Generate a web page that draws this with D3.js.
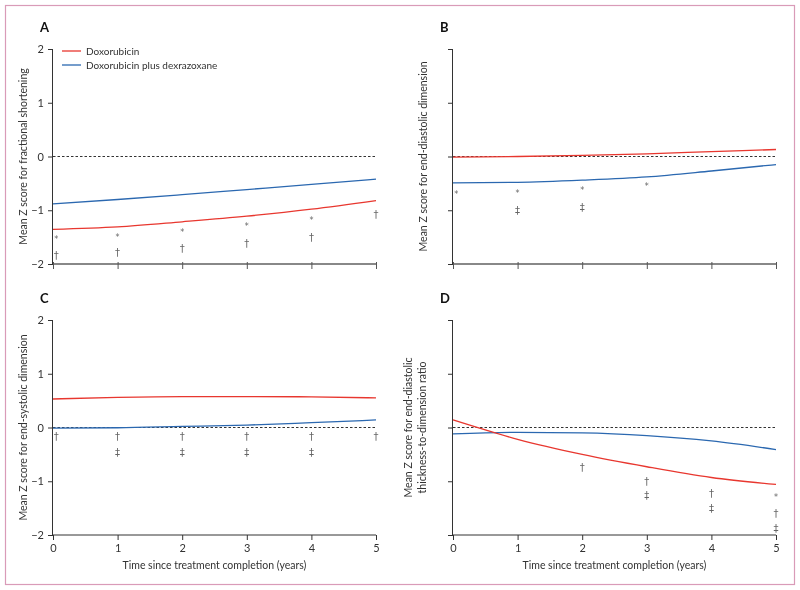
<!DOCTYPE html>
<html>
<head>
<meta charset="utf-8">
<script src="https://cdn.jsdelivr.net/npm/d3@7"></script>
<style>
  html, body { margin: 0; padding: 0; background: #fff; }
  svg { display: block; font-family: Lato, "Open Sans", sans-serif; will-change: transform; }
</style>
</head>
<body>
<svg id="chart" width="800" height="590"></svg>
<script>
// ---- Data ----
const years = [0, 1, 2, 3, 4, 5];
const yTicks = [2, 1, 0, -1, -2];
const xTickLabels = ["0", "1", "2", "3", "4", "5"];
const seriesNames = ["Doxorubicin", "Doxorubicin plus dexrazoxane"];

const panelLabels = ["A", "B", "C", "D"];
const yTitles = [
  ["Mean Z score for fractional shortening"],
  ["Mean Z score for end-diastolic dimension"],
  ["Mean Z score for end-systolic dimension"],
  ["Mean Z score for end-diastolic", "thickness-to-dimension ratio"]
];
const xTitle = "Time since treatment completion (years)";

const doxA = [-1.355, -1.31, -1.215, -1.11, -0.98, -0.82];
const dexA = [-0.88, -0.80, -0.71, -0.615, -0.52, -0.42];
const doxB = [-0.01, 0.0, 0.02, 0.05, 0.09, 0.13];
const dexB = [-0.49, -0.48, -0.44, -0.38, -0.27, -0.15];
const doxC = [0.53, 0.56, 0.575, 0.575, 0.57, 0.55];
const dexC = [-0.01, -0.005, 0.02, 0.045, 0.09, 0.14];
const doxD = [0.14, -0.22, -0.50, -0.73, -0.93, -1.06];
const dexD = [-0.12, -0.09, -0.10, -0.15, -0.25, -0.41];

// significance markers: [year, z, symbol]
const marksA = [[0.05, -1.55, "*"], [0.05, -1.85, "†"], [1, -1.50, "*"], [1, -1.79, "†"],
                [2, -1.42, "*"], [2, -1.72, "†"], [3, -1.31, "*"], [3, -1.61, "†"],
                [4, -1.19, "*"], [4, -1.50, "†"], [5, -1.07, "†"]];
const marksB = [[0.05, -0.71, "*"], [1, -0.69, "*"], [1, -1.0, "‡"], [2, -0.64, "*"],
                [2, -0.95, "‡"], [3, -0.56, "*"]];
const marksC = [[0.05, -0.17, "†"], [1, -0.17, "†"], [2, -0.17, "†"], [3, -0.17, "†"],
                [4, -0.17, "†"], [5, -0.17, "†"],
                [1, -0.47, "‡"], [2, -0.47, "‡"], [3, -0.47, "‡"], [4, -0.47, "‡"]];
const marksD = [[2, -0.75, "†"], [3, -1.0, "†"], [3, -1.27, "‡"], [4, -1.23, "†"],
                [4, -1.51, "‡"], [5, -1.31, "*"], [5, -1.60, "†"], [5, -1.87, "‡"]];

// ---- Drawing ----
const RED = "#e8372f", BLUE = "#2b68b0", GREY = "#666";
const svg = d3.select("#chart");

svg.append("rect").attr("x", 5.5).attr("y", 5.5).attr("width", 789).attr("height", 579)
  .attr("fill", "none").attr("stroke", "#d99bb8").attr("stroke-width", 1.2);

const panels = [
  { label: panelLabels[0], left: 53, top: 49, dox: doxA, dex: dexA, marks: marksA, title: yTitles[0], yLabels: true, xLabels: false, legend: true },
  { label: panelLabels[1], left: 453, top: 49, dox: doxB, dex: dexB, marks: marksB, title: yTitles[1], yLabels: false, xLabels: false, legend: false },
  { label: panelLabels[2], left: 53, top: 320, dox: doxC, dex: dexC, marks: marksC, title: yTitles[2], yLabels: true, xLabels: true, legend: false },
  { label: panelLabels[3], left: 453, top: 320, dox: doxD, dex: dexD, marks: marksD, title: yTitles[3], yLabels: false, xLabels: true, legend: false }
];
const W = 323, H = 215;

panels.forEach(p => {
  const g = svg.append("g").attr("transform", `translate(${p.left},${p.top})`);
  const x = d3.scaleLinear().domain([0, 5]).range([0, W]);
  const y = d3.scaleLinear().domain([-2, 2]).range([H, 0]);

  // panel label
  svg.append("text").attr("x", p.left - 13).attr("y", p.top - 17)
    .attr("font-size", 13).attr("font-weight", "bold").attr("fill", "#111").text(p.label);

  // y axis
  const yAxis = d3.axisLeft(y).tickValues(yTicks).tickSize(5).tickPadding(4)
    .tickFormat(p.yLabels ? (d => d < 0 ? "−" + Math.abs(d) : String(d)) : "");
  const ya = g.append("g").call(yAxis);
  ya.select(".domain").attr("stroke", "#333").attr("d", `M-0.5,0V${H}`);
  ya.selectAll(".tick line").attr("stroke", "#333");
  ya.selectAll(".tick text").attr("font-size", 11).attr("fill", "#333").attr("font-family", "Lato, sans-serif");

  // x axis
  const xAxis = d3.axisBottom(x).tickValues(years).tickSize(5).tickPadding(4)
    .tickFormat(p.xLabels ? ((d, i) => xTickLabels[i]) : "");
  const xa = g.append("g").attr("transform", `translate(0,${H})`).call(xAxis);
  const axColor = p.xLabels ? "#333" : "#888";
  xa.select(".domain").attr("stroke", axColor).attr("stroke-width", p.xLabels ? 1 : 2.2).attr("d", `M0,0H${W}`);
  xa.selectAll(".tick line").attr("stroke", p.xLabels ? "#333" : "#555").attr("y1", p.xLabels ? 0 : -2);
  xa.selectAll(".tick text").attr("font-size", 11).attr("fill", "#333").attr("font-family", "Lato, sans-serif");

  // zero dashed line
  g.append("line").attr("x1", 0).attr("x2", W).attr("y1", y(0)).attr("y2", y(0))
    .attr("stroke", "#333").attr("stroke-dasharray", "2.5,2").attr("stroke-width", 1);

  // lines
  const line = d3.line().x((d, i) => x(years[i])).y(d => y(d)).curve(d3.curveMonotoneX);
  g.append("path").datum(p.dex).attr("d", line).attr("fill", "none").attr("stroke", BLUE).attr("stroke-width", 1.3);
  g.append("path").datum(p.dox).attr("d", line).attr("fill", "none").attr("stroke", RED).attr("stroke-width", 1.3);

  // markers
  g.selectAll("text.mark").data(p.marks).enter().append("text").attr("class", "mark")
    .attr("x", d => x(d[0])).attr("y", d => y(d[1]))
    .attr("text-anchor", "middle").attr("dominant-baseline", "central")
    .attr("font-family", "'DejaVu Sans', sans-serif")
    .attr("font-size", d => d[2] === "*" ? 8 : 10).attr("fill", GREY)
    .text(d => d[2]);

  // y title
  const tx = p.left - (p.title.length > 1 ? 41 : 26);
  p.title.forEach((t, i) => {
    svg.append("text")
      .attr("transform", `translate(${tx + i * 14},${p.top + H / 2}) rotate(-90)`)
      .attr("text-anchor", "middle").attr("font-size", 10.5).attr("fill", "#333").text(t);
  });

  // x title
  if (p.xLabels) {
    svg.append("text").attr("x", p.left + W / 2).attr("y", p.top + H + 34)
      .attr("text-anchor", "middle").attr("font-size", 10.5).attr("fill", "#333").text(xTitle);
  }

  // legend
  if (p.legend) {
    const lg = g.append("g");
    [RED, BLUE].forEach((c, i) => {
      lg.append("line").attr("x1", 9).attr("x2", 28).attr("y1", 2 + i * 14).attr("y2", 2 + i * 14)
        .attr("stroke", c).attr("stroke-width", 1.3);
      lg.append("text").attr("x", 33).attr("y", 2 + i * 14).attr("dominant-baseline", "central")
        .attr("font-size", 10).attr("fill", "#333").text(seriesNames[i]);
    });
  }
});
</script>
</body>
</html>
